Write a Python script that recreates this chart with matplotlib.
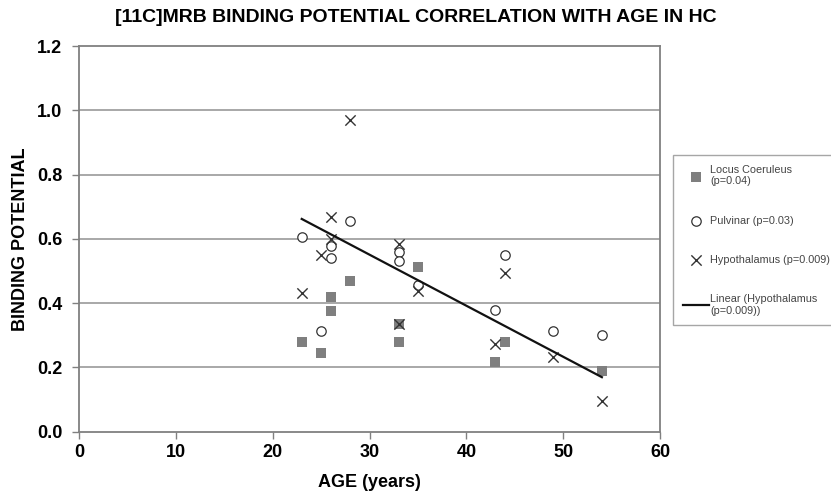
import matplotlib.pyplot as plt
import numpy as np

plt.rcParams['font.family'] = ['Liberation Sans', 'DejaVu Sans']

# Ages and binding potential values
lc_age = [23, 25, 26, 26, 28, 33, 33, 35, 43, 44, 54]
lc_bp = [0.28, 0.245, 0.42, 0.375, 0.47, 0.335, 0.278, 0.513, 0.218, 0.278, 0.19]

pul_age = [23, 25, 26, 26, 28, 33, 33, 35, 43, 44, 49, 54]
pul_bp = [0.607, 0.312, 0.577, 0.539, 0.657, 0.559, 0.530, 0.456, 0.378, 0.549, 0.312, 0.300]

hyp_age = [23, 25, 26, 26, 28, 33, 33, 35, 43, 44, 49, 54]
hyp_bp = [0.432, 0.549, 0.600, 0.667, 0.970, 0.585, 0.335, 0.438, 0.273, 0.494, 0.233, 0.097]

x_ticks = [0, 10, 20, 30, 40, 50, 60]
y_ticks = [0.0, 0.2, 0.4, 0.6, 0.8, 1.0, 1.2]

fig = plt.figure(figsize=(8.31, 4.98), dpi=100)
ax = fig.add_axes([0.0951, 0.1331, 0.6991, 0.7745])

for y in y_ticks[1:-1]:
    ax.axhline(y, color='#a8a8a8', lw=1.4, zorder=0)

ax.scatter(lc_age, lc_bp, marker='s', s=42, color='#7f7f7f', lw=0,
           label='Locus Coeruleus\n(p=0.04)', zorder=3)
ax.scatter(pul_age, pul_bp, marker='o', s=46, facecolors='white',
           edgecolors='#333333', lw=0.9, label='Pulvinar (p=0.03)', zorder=3)
ax.scatter(hyp_age, hyp_bp, marker='x', s=55, color='#333333', lw=1.0,
           label='Hypothalamus (p=0.009)', zorder=4)

# linear fit of hypothalamus
coef = np.polyfit(hyp_age, hyp_bp, 1)
xs = np.array([min(hyp_age), max(hyp_age)])
ax.plot(xs, np.polyval(coef, xs), color='#111111', lw=1.6,
        label='Linear (Hypothalamus\n(p=0.009))', zorder=5)

ax.set_xlim(0, 60)
ax.set_ylim(0, 1.2)
ax.set_xticks(x_ticks)
ax.set_yticks(y_ticks)
ax.set_xticklabels([str(v) for v in x_ticks])
ax.set_yticklabels([f'{v:.1f}' for v in y_ticks])
ax.tick_params(direction='out', length=5, width=1, color='#808080', labelsize=13)
ax.tick_params(axis='x', pad=4)
ax.tick_params(axis='y', pad=7)
for lab in ax.get_xticklabels() + ax.get_yticklabels():
    lab.set_fontweight('bold')
for sp in ax.spines.values():
    sp.set_color('#808080')
    sp.set_linewidth(1.3)

ax.set_xlabel('AGE (years)', fontsize=13, fontweight='bold', labelpad=9)
ax.set_ylabel('BINDING POTENTIAL', fontsize=13, fontweight='bold', labelpad=6)
fig.text(0.5, 0.965, '[11C]MRB BINDING POTENTIAL CORRELATION WITH AGE IN HC',
         ha='center', va='center', fontsize=14, fontweight='bold')

leg = fig.legend(loc='upper left', bbox_to_anchor=(673 / 831, 1 - 155 / 498),
                 borderaxespad=0, fontsize=7.8, frameon=True, fancybox=False,
                 labelspacing=2.7, handlelength=2.4, handletextpad=0.15,
                 borderpad=0.9, scatterpoints=1)
leg.get_frame().set_edgecolor('#909090')
leg.get_frame().set_linewidth(1.0)
for t in leg.get_texts():
    t.set_color('#444444')

plt.savefig('out.png', dpi=100, facecolor='white')
